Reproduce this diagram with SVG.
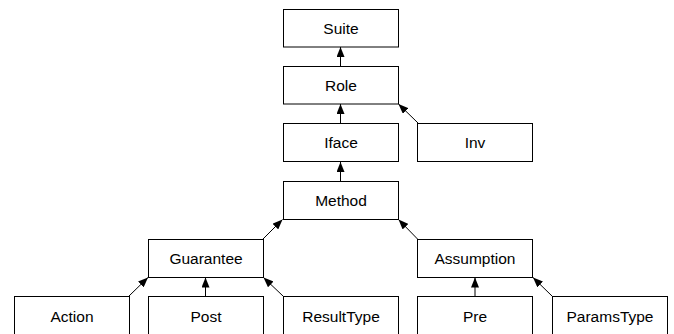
<svg xmlns="http://www.w3.org/2000/svg" width="674" height="334" viewBox="0 0 674 334">
<style>
.n rect{fill:#fff;stroke:#000;stroke-width:1}
.n text{font-family:"Liberation Sans",Arial,sans-serif;font-size:15.5px;fill:#000;text-anchor:middle}
.c line{stroke:#000;stroke-width:1;marker-end:url(#a)}
</style>
<defs>
<marker id="a" markerWidth="10" markerHeight="8" refX="10" refY="4" orient="auto" markerUnits="userSpaceOnUse">
<path d="M0,0 L10,4 L0,8 Z" fill="#000"/>
</marker>
</defs>
<rect width="674" height="334" fill="#fff"/>
<g class="c">
<line x1="340.5" y1="66" x2="340.5" y2="47"/>
<line x1="340.5" y1="123" x2="340.5" y2="104"/>
<line x1="418" y1="123" x2="398.5" y2="104"/>
<line x1="340.5" y1="181" x2="340.5" y2="162"/>
<line x1="263" y1="239" x2="282.5" y2="219.5"/>
<line x1="417.5" y1="239" x2="398.5" y2="219.5"/>
<line x1="129" y1="296" x2="148" y2="277.5"/>
<line x1="205.5" y1="296" x2="205.5" y2="277.5"/>
<line x1="283" y1="296" x2="263.5" y2="277.5"/>
<line x1="475" y1="296" x2="475" y2="277.5"/>
<line x1="552" y1="296" x2="533" y2="277.5"/>
</g>
<g id="suite" class="n"><rect x="283.5" y="9.5" width="115" height="37.5"/><text x="341" y="33.5">Suite</text></g>
<g id="role" class="n"><rect x="283.5" y="66.5" width="115" height="37.5"/><text x="341" y="90.5">Role</text></g>
<g id="iface" class="n"><rect x="283.5" y="123.5" width="115" height="38"/><text x="341" y="148">Iface</text></g>
<g id="inv" class="n"><rect x="417.5" y="123.5" width="115" height="38"/><text x="475" y="148">Inv</text></g>
<g id="method" class="n"><rect x="283.5" y="181.5" width="115" height="38"/><text x="341" y="206">Method</text></g>
<g id="guarantee" class="n"><rect x="148.5" y="239.5" width="115" height="38"/><text x="206" y="263.5">Guarantee</text></g>
<g id="assumption" class="n"><rect x="417.5" y="239.5" width="115" height="38"/><text x="475" y="263.5">Assumption</text></g>
<g id="action" class="n"><rect x="14.5" y="296.5" width="115" height="40"/><text x="72" y="321.5">Action</text></g>
<g id="post" class="n"><rect x="148.5" y="296.5" width="115" height="40"/><text x="206" y="321.5">Post</text></g>
<g id="resulttype" class="n"><rect x="283.5" y="296.5" width="115" height="40"/><text x="341" y="321.5">ResultType</text></g>
<g id="pre" class="n"><rect x="417.5" y="296.5" width="115" height="40"/><text x="475" y="321.5">Pre</text></g>
<g id="paramstype" class="n"><rect x="552.5" y="296.5" width="115" height="40"/><text x="610" y="321.5">ParamsType</text></g>
</svg>
